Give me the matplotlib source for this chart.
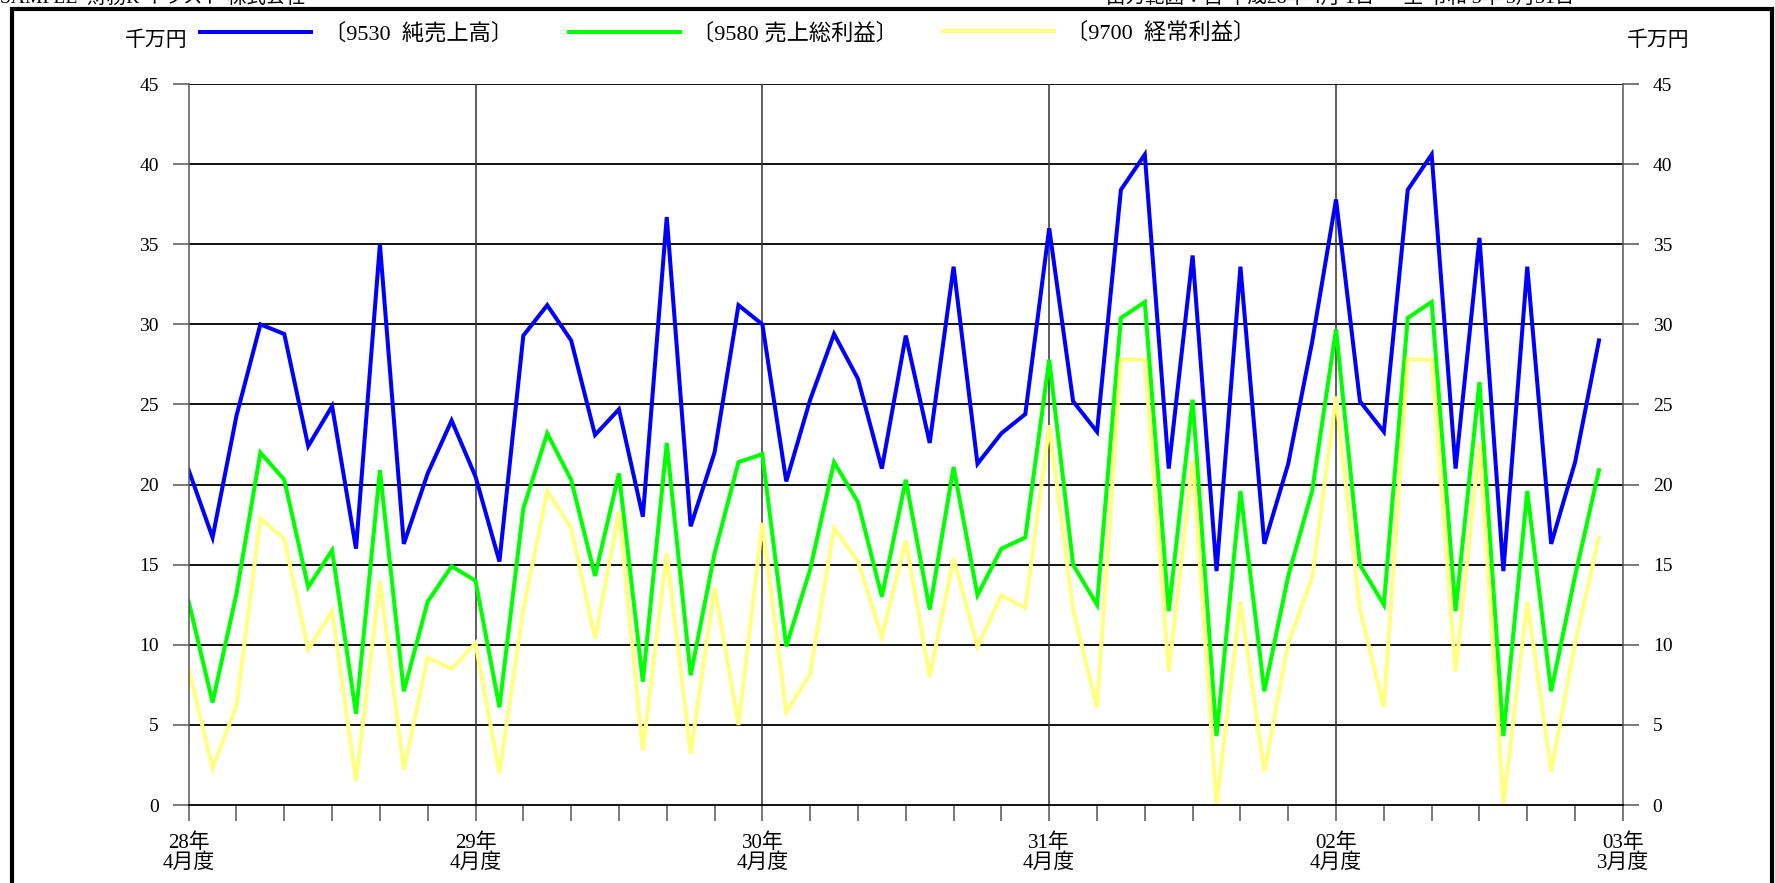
import numpy as np
import matplotlib
matplotlib.use("Agg")
import matplotlib.pyplot as plt
from matplotlib.patches import Rectangle

plt.rcParams['font.family'] = ['Liberation Serif', 'Noto Sans CJK JP', 'DejaVu Sans']

# monthly values (千万円), 28年4月 .. 03年3月
sales = [20.9, 16.7, 24.3, 30.0, 29.4, 22.4, 24.9, 16.0, 35.0, 16.3,
         20.7, 24.0, 20.5, 15.2, 29.3, 31.2, 29.0, 23.1, 24.7, 18.0,
         36.7, 17.4, 22.0, 31.2, 30.0, 20.2, 25.3, 29.4, 26.6, 21.0,
         29.3, 22.6, 33.6, 21.3, 23.2, 24.4, 36.0, 25.2, 23.3, 38.4,
         40.6, 21.0, 34.3, 14.6, 33.6, 16.3, 21.3, 28.9, 37.8, 25.2,
         23.3, 38.4, 40.6, 21.0, 35.4, 14.6, 33.6, 16.3, 21.4, 29.0]
gross = [12.7, 6.4, 13.2, 22.0, 20.3, 13.6, 15.9, 5.7, 20.9, 7.1,
         12.7, 14.9, 14.0, 6.1, 18.5, 23.2, 20.3, 14.3, 20.7, 7.7,
         22.6, 8.1, 15.7, 21.4, 21.9, 9.9, 14.7, 21.4, 18.9, 13.0,
         20.3, 12.2, 21.1, 13.1, 16.0, 16.7, 27.8, 15.0, 12.5, 30.4,
         31.4, 12.1, 25.3, 4.3, 19.6, 7.1, 14.3, 19.6, 29.7, 15.0,
         12.5, 30.4, 31.4, 12.1, 26.4, 4.3, 19.6, 7.1, 14.3, 20.9]
ordinary = [8.5, 2.3, 6.2, 17.9, 16.6, 9.7, 12.1, 1.5, 14.0, 2.2,
            9.2, 8.5, 10.1, 2.0, 12.2, 19.6, 17.3, 10.4, 18.3, 3.4,
            15.7, 3.2, 13.6, 5.0, 17.6, 5.8, 8.2, 17.3, 15.2, 10.5,
            16.5, 8.0, 15.4, 9.9, 13.1, 12.3, 23.7, 12.2, 6.1, 27.8,
            27.8, 8.3, 21.5, 0.0, 12.7, 2.1, 10.1, 14.2, 25.5, 12.2,
            6.1, 27.8, 27.8, 8.3, 22.6, 0.0, 12.7, 2.1, 10.1, 16.7]

series_names = ["〔9530  純売上高〕", "〔9580 売上総利益〕", "〔9700  経常利益〕"]
colors = ["#0000ff", "#00ff00", "#ffff80"]
legend_x = [0.1128, 0.3205, 0.531]
year_ticks = [0, 12, 24, 36, 48, 60]
year_labels = ["28年\n4月度", "29年\n4月度", "30年\n4月度", "31年\n4月度", "02年\n4月度", "03年\n3月度"]
y_ticks = list(range(0, 46, 5))

fig = plt.figure(figsize=(17.75, 8.83), dpi=100)
ax = fig.add_axes([0.1063, 0.0883, 0.808, 0.8165])

x = np.arange(len(sales))
lines = []
for vals, c, name in zip([sales, gross, ordinary], colors, series_names):
    ln, = ax.plot(x, vals, color=c, lw=2.9, label=name, solid_joinstyle='miter')
    lines.append(ln)

ax.set_xlim(0, 60)
ax.set_ylim(0, 45)

# grid
for yv in y_ticks[1:]:
    ax.axhline(yv, color='black', lw=1.3, zorder=0)
for xv in year_ticks[1:-1]:
    ax.axvline(xv, color='#333333', lw=1.1, zorder=0)

for s in ax.spines.values():
    s.set_color('#555555')
    s.set_linewidth(1.1)
ax.spines['top'].set_visible(False)
ax.spines['bottom'].set_color('black')
ax.spines['bottom'].set_linewidth(1.3)

ax.set_yticks(y_ticks)
ax.tick_params(axis='y', which='both', left=True, right=True, labelleft=True,
               labelright=True, length=11.5, width=1.1, color='#555555',
               labelsize=14, pad=10)
ax.set_xticks(year_ticks)
ax.set_xticklabels(year_labels)
ax.set_xticks(np.arange(0, 61, 2), minor=True)
ax.tick_params(axis='x', which='both', length=11.5, width=1.1, color='#555555',
               labelsize=15, pad=9)
for t in ax.get_xticklabels():
    t.set_linespacing(1.0)

# unit labels
fig.text(0.1055, 0.953, "千万円", ha='right', va='center', fontsize=15)
fig.text(0.9165, 0.953, "千万円", ha='left', va='center', fontsize=15)

# legend, one entry per slot
for ln, lx in zip(lines, legend_x):
    fig.legend(handles=[ln], loc='center left', bbox_to_anchor=(lx, 0.962),
               frameon=False, fontsize=16, handlelength=5.0,
               handletextpad=0.55, borderaxespad=0, borderpad=0)

# clipped header
fig.text(0.0, 1.003, "SAMPLE  財務R イラスト 株式会社", ha='left', va='center', fontsize=14)
fig.text(0.623, 1.003, "出力範囲：自 平成28年 4月 1日 ～ 至 令和 3年 3月31日",
         ha='left', va='center', fontsize=14)

# outer frame
fig.add_artist(Rectangle((0.0068, -0.1), 0.9915, 1.09, transform=fig.transFigure,
                         fill=False, edgecolor='black', lw=3, clip_on=False))

fig.savefig("out.png", dpi=100)
